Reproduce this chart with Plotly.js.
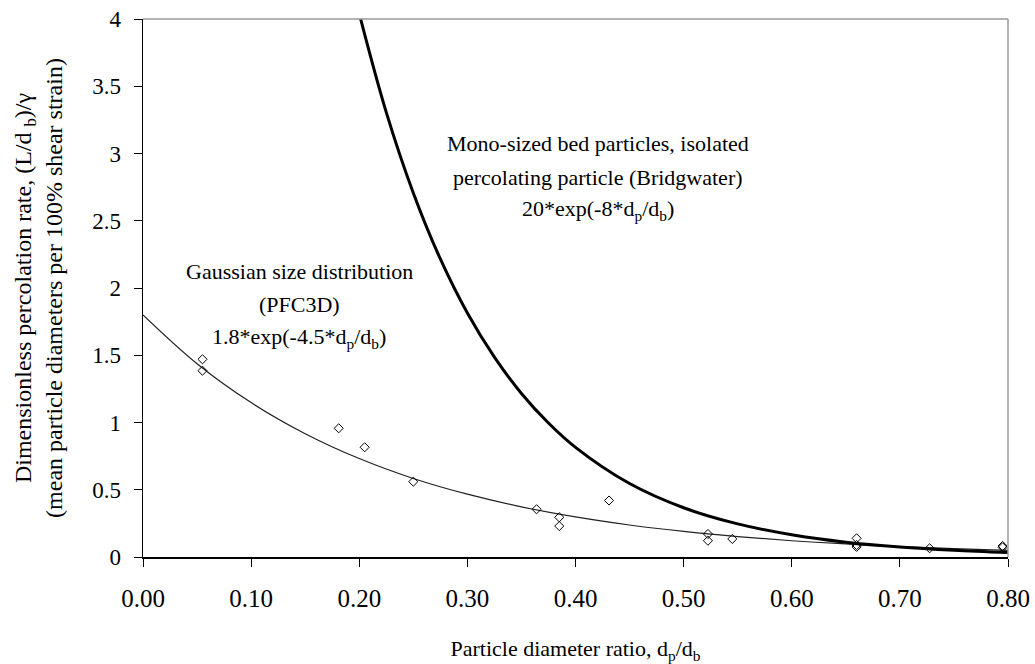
<!DOCTYPE html>
<html>
<head>
<meta charset="utf-8">
<script src="https://cdn.plot.ly/plotly-3.0.1.min.js"></script>
<style>
  html, body { margin: 0; padding: 0; background: #fff; }
  #chart { width: 1035px; height: 664px; }
  #chart text { font-family: "Liberation Serif", serif !important; }
</style>
</head>
<body>
<div id="chart"></div>
<script>
// Measured PFC3D data points (Gaussian size distribution)
const pointsX = [0.055, 0.055, 0.181, 0.205, 0.250, 0.364, 0.385, 0.385, 0.431, 0.5225, 0.5225, 0.545, 0.660, 0.660, 0.660, 0.7275, 0.795, 0.795];
const pointsY = [1.47, 1.385, 0.957, 0.816, 0.56, 0.355, 0.295, 0.23, 0.42, 0.171, 0.121, 0.134, 0.139, 0.089, 0.075, 0.065, 0.082, 0.072];

// Fitted curve, Gaussian size distribution
const gaussX = [0.00, 0.05, 0.10, 0.15, 0.20, 0.25, 0.30, 0.35, 0.40, 0.45, 0.50, 0.55, 0.60, 0.65, 0.70, 0.75, 0.80];
const gaussY = [1.80, 1.437, 1.148, 0.917, 0.732, 0.584, 0.467, 0.373, 0.298, 0.238, 0.190, 0.152, 0.121, 0.097, 0.077, 0.062, 0.049];

// Mono-sized bed curve, Bridgwater
const monoX = [0.200, 0.225, 0.250, 0.275, 0.300, 0.325, 0.350, 0.375, 0.400, 0.450, 0.500, 0.550, 0.600, 0.650, 0.700, 0.750, 0.800];
const monoY = [4.04, 3.306, 2.707, 2.216, 1.814, 1.486, 1.216, 0.996, 0.815, 0.546, 0.366, 0.246, 0.165, 0.110, 0.074, 0.050, 0.033];

// Tick labels
const xTickVals = [0, 0.1, 0.2, 0.3, 0.4, 0.5, 0.6, 0.7, 0.8];
const xTickText = ['0.00', '0.10', '0.20', '0.30', '0.40', '0.50', '0.60', '0.70', '0.80'];
const yTickVals = [0, 0.5, 1, 1.5, 2, 2.5, 3, 3.5, 4];
const yTickText = ['0', '0.5', '1', '1.5', '2', '2.5', '3', '3.5', '4'];

// Annotation texts
const monoLabel = ['Mono-sized bed particles, isolated', 'percolating particle (Bridgwater)', '20*exp(-8*d<sub>p</sub>/d<sub>b</sub>)'];
const gaussLabel = ['Gaussian size distribution', '(PFC3D)', '1.8*exp(-4.5*d<sub>p</sub>/d<sub>b</sub>)'];

const serif = 'Liberation Serif';

const traces = [
  {
    x: gaussX, y: gaussY, type: 'scatter', mode: 'lines',
    line: { color: '#222', width: 1.2, shape: 'spline' },
    hoverinfo: 'skip', showlegend: false
  },
  {
    x: monoX, y: monoY, type: 'scatter', mode: 'lines',
    line: { color: '#000', width: 3, shape: 'spline' },
    hoverinfo: 'skip', showlegend: false
  },
  {
    x: pointsX, y: pointsY, type: 'scatter', mode: 'markers',
    marker: { symbol: 'diamond-open', size: 7, color: '#000', line: { width: 1, color: '#000' } },
    showlegend: false, cliponaxis: false
  }
];

const annX1 = 0.4204, annX2 = 0.1444;
const monoYs = [3.078, 2.825, 2.58];
const gaussYs = [2.119, 1.874, 1.628];
const annotations = [];
monoLabel.forEach((t, i) => annotations.push({
  x: annX1, y: monoYs[i], xref: 'x', yref: 'y', text: t, showarrow: false,
  font: { family: serif, size: 22, color: '#000' }, xanchor: 'center', yanchor: 'middle'
}));
gaussLabel.forEach((t, i) => annotations.push({
  x: annX2, y: gaussYs[i], xref: 'x', yref: 'y', text: t, showarrow: false,
  font: { family: serif, size: 22, color: '#000' }, xanchor: 'center', yanchor: 'middle'
}));

const layout = {
  width: 1035, height: 664,
  margin: { l: 143, r: 27, t: 19, b: 107 },
  paper_bgcolor: '#fff', plot_bgcolor: '#fff',
  font: { family: serif, color: '#000' },
  showlegend: false,
  xaxis: {
    range: [0, 0.8], tickvals: xTickVals, ticktext: xTickText,
    ticks: 'outside', ticklen: 8, tickwidth: 1, tickcolor: '#000',
    showline: true, linecolor: '#000', linewidth: 1.5,
    showgrid: false, zeroline: false,
    tickfont: { family: serif, size: 25, color: '#000' },
    ticklabelstandoff: 10,
    title: { text: 'Particle diameter ratio, d<sub>p</sub>/d<sub>b</sub>', font: { family: serif, size: 22, color: '#000' }, standoff: 30 },
    automargin: false
  },
  yaxis: {
    range: [0, 4], tickvals: yTickVals, ticktext: yTickText,
    ticks: 'outside', ticklen: 8, tickwidth: 1, tickcolor: '#000',
    showline: true, linecolor: '#000', linewidth: 1.5,
    showgrid: false, zeroline: false,
    tickfont: { family: serif, size: 23, color: '#000' },
    ticklabelstandoff: 8,
    title: { text: 'Dimensionless percolation rate, (L/d <sub>b</sub>)/γ<br>(mean particle diameters per 100% shear strain)', font: { family: serif, size: 24, color: '#000' }, standoff: 22 },
    automargin: false
  },
  shapes: [
    { type: 'line', xref: 'paper', yref: 'paper', x0: 0, x1: 1, y0: 1, y1: 1, line: { color: '#999', width: 1.5 } },
    { type: 'line', xref: 'paper', yref: 'paper', x0: 1, x1: 1, y0: 0, y1: 1, line: { color: '#999', width: 1.5 } }
  ],
  annotations: annotations
};

Plotly.newPlot('chart', traces, layout, { displayModeBar: false, staticPlot: true });
</script>
</body>
</html>
